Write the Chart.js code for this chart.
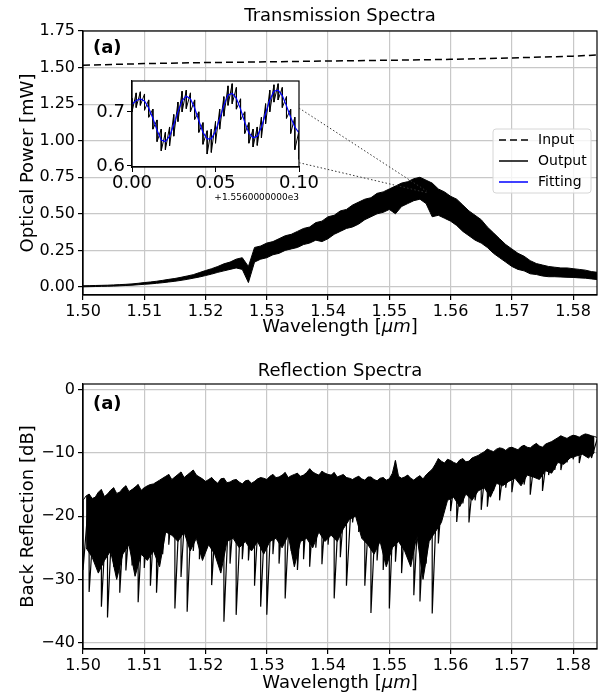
<!DOCTYPE html>
<html>
<head>
<meta charset="utf-8">
<script src="https://cdn.jsdelivr.net/npm/chart.js@4.4.0/dist/chart.umd.min.js"></script>
<style>
  html, body { margin: 0; padding: 0; background: #fff; overflow: hidden; }
  #wrap { position: relative; width: 605px; height: 696px; }
  .box { position: absolute; left: 0; }
</style>
</head>
<body>
<div id="wrap">
  <div class="box" style="top:0;width:605px;height:348px"><canvas id="trans"></canvas></div>
  <div class="box" style="top:348px;width:605px;height:348px"><canvas id="refl"></canvas></div>
  <div class="box" style="left:40px;top:60px;width:400px;height:150px"><canvas id="inset"></canvas></div>
</div>
<script>
// wavelength grid [um], one sample per nm
const wl = [1.500,1.501,1.502,1.503,1.504,1.505,1.506,1.507,1.508,1.509,
  1.510,1.511,1.512,1.513,1.514,1.515,1.516,1.517,1.518,1.519,
  1.520,1.521,1.522,1.523,1.524,1.525,1.526,1.527,1.528,1.529,
  1.530,1.531,1.532,1.533,1.534,1.535,1.536,1.537,1.538,1.539,
  1.540,1.541,1.542,1.543,1.544,1.545,1.546,1.547,1.548,1.549,
  1.550,1.551,1.552,1.553,1.554,1.555,1.556,1.557,1.558,1.559,
  1.560,1.561,1.562,1.563,1.564,1.565,1.566,1.567,1.568,1.569,
  1.570,1.571,1.572,1.573,1.574,1.575,1.576,1.577,1.578,1.579,
  1.580,1.581,1.582,1.583,1.584];
// half-nm samples in between, used by the reflection trace
const wl2 = [1.5005,1.5015,1.5025,1.5035,1.5045,1.5055,1.5065,1.5075,1.5085,1.5095,
  1.5105,1.5115,1.5125,1.5135,1.5145,1.5155,1.5165,1.5175,1.5185,1.5195,
  1.5205,1.5215,1.5225,1.5235,1.5245,1.5255,1.5265,1.5275,1.5285,1.5295,
  1.5305,1.5315,1.5325,1.5335,1.5345,1.5355,1.5365,1.5375,1.5385,1.5395,
  1.5405,1.5415,1.5425,1.5435,1.5445,1.5455,1.5465,1.5475,1.5485,1.5495,
  1.5505,1.5515,1.5525,1.5535,1.5545,1.5555,1.5565,1.5575,1.5585,1.5595,
  1.5605,1.5615,1.5625,1.5635,1.5645,1.5655,1.5665,1.5675,1.5685,1.5695,
  1.5705,1.5715,1.5725,1.5735,1.5745,1.5755,1.5765,1.5775,1.5785,1.5795,
  1.5805,1.5815,1.5825,1.5835];

// transmission: input (dashed) and output band (upper / lower edge), mW
const inputW = [1.50,1.51,1.52,1.53,1.54,1.55,1.56,1.57,1.58,1.584];
const inputP = [1.516,1.527,1.534,1.539,1.545,1.550,1.556,1.566,1.578,1.586];
const outHi = [.008,.009,.010,.011,.012,.014,.016,.018,.021,.025,
  .030,.034,.039,.045,.052,.058,.066,.075,.084,.098,
  .112,.125,.140,.158,.170,.190,.200,.140,.270,.280,
  .300,.310,.330,.350,.360,.380,.400,.410,.440,.450,
  .480,.490,.520,.530,.560,.580,.600,.610,.640,.650,
  .670,.690,.710,.720,.740,.750,.730,.710,.670,.650,
  .620,.600,.560,.520,.490,.460,.410,.370,.330,.290,
  .260,.230,.210,.180,.160,.150,.140,.135,.130,.130,
  .125,.120,.115,.105,.100];
const outLo = [.001,.002,.003,.004,.005,.006,.008,.010,.012,.015,
  .018,.021,.025,.029,.034,.039,.045,.052,.060,.068,
  .078,.088,.100,.110,.120,.130,.120,.030,.170,.190,
  .200,.220,.230,.250,.260,.270,.290,.300,.320,.310,
  .330,.360,.380,.400,.410,.430,.460,.480,.500,.510,
  .530,.500,.550,.570,.590,.600,.570,.480,.490,.470,
  .450,.420,.380,.350,.320,.300,.270,.230,.200,.170,
  .140,.120,.110,.090,.085,.075,.070,.070,.068,.066,
  .065,.062,.060,.055,.050];

// reflection: peak / dip of each bin, dB (whole nm)
const refHi = [-17.5,-16.5,-17,-15.8,-16.5,-15.5,-16.2,-15.2,-15.8,-15,
  -15.5,-15,-14.6,-14,-13.4,-13.8,-13,-13.5,-12.7,-13.8,
  -14.5,-13.9,-14.8,-14,-14.6,-14.2,-14.9,-14.3,-14.5,-13.9,
  -14.2,-13.4,-13.8,-13.1,-13.6,-13.2,-13.5,-12.5,-13.3,-12.9,
  -13.4,-13.1,-13.6,-13.9,-14.2,-13.7,-14.3,-13.8,-14.4,-13.9,
  -14.1,-11.2,-14,-13.5,-14.3,-13.6,-13.5,-12.6,-10.9,-11.6,
  -11.2,-11.7,-10.9,-11.3,-10.6,-10.1,-9.4,-9.8,-9.2,-9.6,
  -9.1,-9.5,-8.8,-9.2,-8.5,-9.1,-8.4,-7.9,-7.3,-7.7,
  -7.2,-7.5,-7.0,-7.3,-7.6];
const refLo = [-28.5,-32,-27.5,-34.3,-36,-28,-32.1,-28.6,-27.8,-33.6,
  -28.2,-31,-32.1,-26,-24.5,-34.6,-29.6,-35.1,-25.5,-26.8,
  -25,-30.9,-26,-36.7,-27.5,-35.6,-26.8,-27,-31,-34.3,
  -35.6,-26,-27.5,-33,-25.5,-28.5,-26.8,-28,-25,-27.6,
  -24.5,-33,-26.5,-31,-21,-22.5,-31,-35.3,-27,-28.5,
  -34.6,-27.2,-29,-26.5,-32.5,-33.5,-27.5,-35.4,-24.3,-18.5,
  -19.2,-20.9,-18,-21,-17.5,-19,-18.5,-16,-17.5,-15.5,
  -16.2,-14.3,-15,-16.6,-13.8,-16,-13.5,-12.7,-12.7,-11.5,
  -11,-11.6,-10.4,-10.8,-10.6];
// reflection: peak / dip of each bin, dB (half nm)
const refHi2 = [-16.8,-17.2,-16.2,-16.9,-15.9,-16.4,-15.6,-16.1,-15.4,-15.9,
  -15.2,-14.9,-14.3,-13.7,-14.2,-13.4,-13.9,-13.1,-13.5,-14.1,
  -14.2,-14.4,-14.1,-14.7,-14.3,-14.6,-14.4,-14.8,-14.1,-14.0,
  -13.7,-13.9,-13.5,-13.9,-13.4,-13.7,-13.1,-13.0,-13.5,-13.2,
  -13.5,-13.8,-13.4,-14.0,-13.9,-14.1,-13.8,-14.2,-14.0,-14.3,
  -13.2,-13.7,-13.8,-14.0,-13.9,-14.1,-13.0,-11.8,-11.3,-11.0,
  -11.5,-11.1,-11.4,-10.8,-10.4,-9.8,-9.6,-9.4,-9.3,-9.2,
  -9.3,-9.0,-9.1,-8.8,-8.9,-8.6,-8.2,-7.6,-7.5,-7.4,
  -7.3,-7.2,-7.1,-7.4];
const refLo2 = [-25,-26.5,-29,-27,-25.5,-30,-26,-24.5,-29.5,-26,
  -27,-25.5,-28,-22.5,-23,-24,-22.5,-25.5,-23.5,-27,
  -24.5,-26,-29,-24,-23.5,-25,-24,-25.5,-24,-26,
  -24,-23.5,-25,-23,-28,-24,-23.5,-25,-22.5,-24,
  -23,-24,-22,-20.5,-20,-23.5,-24.5,-26,-24,-28,
  -25,-24,-25.5,-28,-23,-30,-24,-22.5,-21,-17.5,
  -17,-18.5,-16.5,-17.5,-16,-15.5,-17,-14.8,-15.2,-14.5,
  -14,-15.2,-13.5,-13.8,-14.2,-12.8,-13.2,-11.5,-11.8,-10.8,
  -10.5,-10.2,-10.8,-9.9];

// inset: 1556.00 .. 1556.10 nm
const insetX = [0,.0025,.005,.0075,.01,.0125,.015,.0175,.02,.0225,
  .025,.0275,.03,.0325,.035,.0375,.04,.0425,.045,.0475,
  .05,.0525,.055,.0575,.06,.0625,.065,.0675,.07,.0725,
  .075,.0775,.08,.0825,.085,.0875,.09,.0925,.095,.0975,.1];
const insetFit = [.714,.721,.724,.720,.707,.688,.666,.648,.645,.655,
  .676,.700,.721,.729,.724,.707,.684,.662,.650,.650,
  .664,.687,.712,.731,.734,.725,.705,.681,.661,.652,
  .655,.672,.697,.722,.738,.740,.730,.711,.690,.672,.661];
const insetHi = [.725,.735,.737,.733,.722,.705,.685,.668,.662,.672,
  .695,.718,.738,.740,.735,.722,.700,.680,.665,.668,
  .682,.705,.728,.748,.752,.745,.724,.700,.680,.668,
  .672,.690,.715,.740,.750,.752,.745,.728,.705,.690,.665];
const insetLo = [.700,.708,.712,.703,.690,.668,.645,.628,.630,.637,
  .655,.682,.700,.706,.700,.686,.662,.640,.622,.625,
  .642,.668,.692,.712,.715,.705,.685,.660,.642,.635,
  .638,.652,.678,.700,.718,.722,.708,.688,.660,.630,.612];

const wlTicks = [1.50,1.51,1.52,1.53,1.54,1.55,1.56,1.57,1.58];
const powerTicks = [0,0.25,0.5,0.75,1.0,1.25,1.5,1.75];
const dbTicks = [0,-10,-20,-30,-40];
const insetTicksX = [0,0.05,0.1];
const insetTicksY = [0.6,0.7];
const legendItems = [['Input', '#000', [7, 4]], ['Output', '#000', []], ['Fitting', '#0000ff', []]];
// where the inset sits on the main trace (um, mW) and where its connectors leave the inset (mW)
const markW = 1.5561, markP = [0.645, 0.655], insetAnchor = [0.606, 0.707];

Chart.defaults.font.family = "'DejaVu Sans', sans-serif";
Chart.defaults.color = '#000';

const pts = (xs, ys) => xs.map((x, i) => ({x: x, y: ys[i]}));
const zigzag = (xs, hi, lo) => xs.flatMap((x, i) => [{x: x, y: hi[i]}, {x: x, y: lo[i]}]);
const gridCol = '#c8c8c8';
const FONT = "'DejaVu Sans'";

// upper edge of the reflection trace from both sample sets, in wavelength order
const refTop = [];
wl.forEach((x, i) => {
  refTop.push({x: x, y: refHi[i]});
  if (i < wl2.length) refTop.push({x: wl2[i], y: refHi2[i]});
});

const deco = {
  id: 'deco',
  beforeDraw(c) {
    const ctx = c.ctx;
    ctx.save();
    ctx.fillStyle = '#fff';
    ctx.fillRect(0, 0, c.width, c.height);
    ctx.restore();
  },
  afterDatasetsDraw(c, args, o) {
    const ctx = c.ctx, a = c.chartArea;
    ctx.save();
    ctx.strokeStyle = '#000';
    ctx.lineWidth = 1.2;
    ctx.strokeRect(a.left, a.top, a.right - a.left, a.bottom - a.top);
    ctx.fillStyle = '#000';
    ctx.textBaseline = 'middle';
    ctx.textAlign = 'center';
    ctx.font = '18px ' + FONT;
    ctx.fillText(o.title, (a.left + a.right) / 2, a.top - o.titleGap);

    // x label, unit in italics like mathtext
    const parts = [['Wavelength [', ''], ['\u03bcm', 'italic '], [']', '']];
    ctx.textAlign = 'left';
    let total = 0;
    parts.forEach(p => { ctx.font = p[1] + '18px ' + FONT; total += ctx.measureText(p[0]).width; });
    let x = (a.left + a.right) / 2 - total / 2;
    parts.forEach(p => {
      ctx.font = p[1] + '18px ' + FONT;
      ctx.fillText(p[0], x, a.bottom + o.xLabelGap);
      x += ctx.measureText(p[0]).width;
    });

    ctx.font = 'bold 18px ' + FONT;
    ctx.fillText('(a)', a.left + 10, a.top + o.tagGap);

    if (o.legend) {
      const w = 98, h = 64;
      const x0 = a.right - 6 - w, y0 = (a.top + a.bottom) / 2 - h / 2 - 2;
      ctx.beginPath();
      ctx.roundRect(x0, y0, w, h, 3);
      ctx.fillStyle = 'rgba(255,255,255,0.8)';
      ctx.fill();
      ctx.strokeStyle = '#d6d6d6';
      ctx.lineWidth = 1;
      ctx.stroke();
      ctx.font = '14px ' + FONT;
      legendItems.forEach((it, i) => {
        const yy = y0 + 11 + i * 21;
        ctx.beginPath();
        ctx.setLineDash(it[2]);
        ctx.strokeStyle = it[1];
        ctx.lineWidth = 1.5;
        ctx.moveTo(x0 + 6, yy);
        ctx.lineTo(x0 + 35, yy);
        ctx.stroke();
        ctx.setLineDash([]);
        ctx.fillStyle = '#000';
        ctx.fillText(it[0], x0 + 45, yy);
      });
    }
    ctx.restore();
  }
};

function wlAxis(h) {
  return {
    type: 'linear', min: 1.5, max: 1.5839,
    afterBuildTicks: s => { s.ticks = wlTicks.map(v => ({value: v})); },
    afterFit: s => { s.height = h; },
    ticks: { callback: v => v.toFixed(2), font: {size: 16}, color: '#000', maxRotation: 0, autoSkip: false, padding: 2 },
    grid: { color: gridCol, lineWidth: 1.2, tickColor: '#000', tickLength: 5 },
    border: { color: '#000', width: 1.2 }
  };
}

function valueAxis(min, max, ticks, fmt, title) {
  return {
    min: min, max: max,
    afterBuildTicks: s => { s.ticks = ticks.map(v => ({value: v})); },
    afterFit: s => { s.width = 83; },
    ticks: { callback: fmt, font: {size: 16}, color: '#000', padding: 3 },
    grid: { color: gridCol, lineWidth: 1.2, tickColor: '#000', tickLength: 5 },
    border: { color: '#000', width: 1.2 },
    title: { display: true, text: title, font: {size: 18}, color: '#000', padding: {top: 18, bottom: 0} }
  };
}

const common = {
  responsive: true, maintainAspectRatio: false, animation: false, devicePixelRatio: 1,
  elements: { point: { radius: 0 }, line: { tension: 0 } }
};

const trans = new Chart(document.getElementById('trans'), {
  type: 'line',
  data: {
    datasets: [
      { label: 'Input', data: pts(inputW, inputP), borderColor: '#000', borderWidth: 1.5, borderDash: [7, 4], fill: false },
      { label: 'Output', data: pts(wl, outHi), borderColor: '#000', borderWidth: 1, fill: false },
      { label: 'Output low', data: pts(wl, outLo), borderColor: '#000', borderWidth: 1, fill: '-1', backgroundColor: '#000' }
    ]
  },
  options: Object.assign({}, common, {
    layout: { padding: { top: 31, right: 8, left: 0, bottom: 0 } },
    scales: {
      x: wlAxis(53),
      y: valueAxis(-0.055, 1.75, powerTicks, v => v.toFixed(2), 'Optical Power [mW]')
    },
    plugins: {
      legend: { display: false }, tooltip: { enabled: false },
      deco: { title: 'Transmission Spectra', titleGap: 15, xLabelGap: 32, tagGap: 17, legend: true }
    }
  }),
  plugins: [deco]
});

new Chart(document.getElementById('refl'), {
  type: 'line',
  data: {
    datasets: [
      { label: 'Reflection', data: zigzag(wl, refHi, refLo), borderColor: '#000', borderWidth: 1.2, borderJoinStyle: 'bevel', fill: false },
      { label: 'Reflection top', data: refTop, borderColor: '#000', borderWidth: 1, fill: false },
      { label: 'Reflection core', data: pts(wl2, refLo2), borderColor: '#000', borderWidth: 1, fill: '-1', backgroundColor: '#000' }
    ]
  },
  options: Object.assign({}, common, {
    layout: { padding: { top: 36, right: 8, left: 0, bottom: 0 } },
    scales: {
      x: wlAxis(47),
      y: valueAxis(-41, 0.9, dbTicks, v => (v < 0 ? '\u2212' + Math.abs(v) : String(v)), 'Back Reflection [dB]')
    },
    plugins: {
      legend: { display: false }, tooltip: { enabled: false },
      deco: { title: 'Reflection Spectra', titleGap: 13, xLabelGap: 34, tagGap: 20, legend: false }
    }
  }),
  plugins: [deco]
});

const insetDeco = {
  id: 'insetDeco',
  beforeDraw(c) {
    const ctx = c.ctx, a = c.chartArea;
    ctx.save();
    ctx.fillStyle = '#fff';
    ctx.fillRect(a.left, a.top, a.right - a.left, a.bottom - a.top);
    ctx.restore();
  },
  afterDraw(c) {
    const ctx = c.ctx, a = c.chartArea;
    ctx.save();
    ctx.strokeStyle = '#000';
    ctx.lineWidth = 1.2;
    ctx.strokeRect(a.left, a.top, a.right - a.left, a.bottom - a.top);
    ctx.fillStyle = '#000';
    ctx.font = '9px ' + FONT;
    ctx.textAlign = 'right';
    ctx.textBaseline = 'middle';
    ctx.fillText('+1.5560000000e3', a.right, a.bottom + 31);

    // connectors to the zoomed spot of the main trace
    const r1 = trans.canvas.getBoundingClientRect(), r2 = c.canvas.getBoundingClientRect();
    const dx = r1.left - r2.left, dy = r1.top - r2.top;
    const ex = trans.scales.x.getPixelForValue(markW) + dx;
    const iy = c.scales.y;
    ctx.setLineDash([1.5, 2.2]);
    ctx.strokeStyle = '#333';
    ctx.lineWidth = 1;
    ctx.beginPath();
    ctx.moveTo(a.right, iy.getPixelForValue(insetAnchor[1]));
    ctx.lineTo(ex, trans.scales.y.getPixelForValue(markP[1]) + dy);
    ctx.moveTo(a.right, iy.getPixelForValue(insetAnchor[0]));
    ctx.lineTo(ex, trans.scales.y.getPixelForValue(markP[0]) + dy);
    ctx.stroke();
    ctx.restore();
  }
};

new Chart(document.getElementById('inset'), {
  type: 'line',
  data: {
    datasets: [
      { label: 'Fitting', data: pts(insetX, insetFit), borderColor: '#0000ff', borderWidth: 1.2, fill: false },
      { label: 'Output', data: zigzag(insetX, insetHi, insetLo), borderColor: '#000', borderWidth: 1, borderJoinStyle: 'bevel', fill: false }
    ]
  },
  options: Object.assign({}, common, {
    layout: { padding: { top: 21, right: 141, left: 0, bottom: 0 } },
    scales: {
      x: {
        type: 'linear', min: 0, max: 0.1,
        afterBuildTicks: s => { s.ticks = insetTicksX.map(v => ({value: v})); },
        afterFit: s => { s.height = 43; },
        ticks: { callback: v => v.toFixed(2), font: {size: 18}, color: '#000', maxRotation: 0, autoSkip: false, padding: 1 },
        grid: { drawOnChartArea: false, tickColor: '#000', tickLength: 5 },
        border: { color: '#000', width: 1.2 }
      },
      y: {
        min: 0.598, max: 0.757,
        afterBuildTicks: s => { s.ticks = insetTicksY.map(v => ({value: v})); },
        afterFit: s => { s.width = 92; },
        ticks: { callback: v => v.toFixed(1), font: {size: 18}, color: '#000', padding: 2 },
        grid: { drawOnChartArea: false, tickColor: '#000', tickLength: 5 },
        border: { color: '#000', width: 1.2 }
      }
    },
    plugins: { legend: { display: false }, tooltip: { enabled: false } }
  }),
  plugins: [insetDeco]
});
</script>
</body>
</html>
